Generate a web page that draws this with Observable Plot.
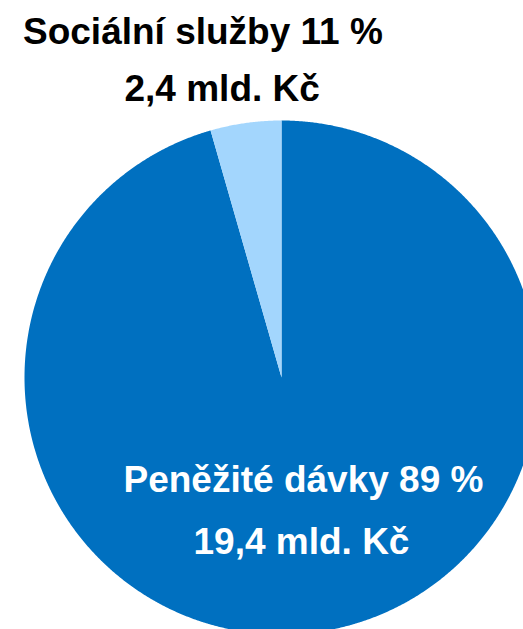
<!DOCTYPE html>
<html>
<head>
<meta charset="utf-8">
<script src="https://cdn.jsdelivr.net/npm/d3@7"></script>
<script src="https://cdn.jsdelivr.net/npm/@observablehq/plot@0.6"></script>
<style>
  html, body { margin: 0; padding: 0; background: #ffffff; }
  #chart svg { display: block; }
</style>
</head>
<body>
<div id="chart"></div>
<script>
// Slices in drawing order (clockwise from 12 o'clock)
const categories = ["Peněžité dávky", "Sociální služby"];
// Slice sizes as drawn in the picture (share of the full circle, %)
const drawnShares = [95.55, 4.45];
// Labelled values
const percentLabels = ["89 %", "11 %"];
const amountLabels = ["19,4 mld. Kč", "2,4 mld. Kč"];
const sliceColors = ["#0070c0", "#a3d6fd"];
const labelColors = ["#ffffff", "#000000"];

// Pie geometry from the data (unit radius, y up)
const arcs = d3.pie().sort(null).value(d => d)(drawnShares);
const pieRows = [];
arcs.forEach((a, i) => {
  pieRows.push({cat: categories[i], x: 0, y: 0});
  const n = Math.max(2, Math.ceil((a.endAngle - a.startAngle) / 0.005));
  for (let k = 0; k <= n; k++) {
    const t = a.startAngle + (a.endAngle - a.startAngle) * k / n;
    pieRows.push({cat: categories[i], x: Math.sin(t), y: Math.cos(t)});
  }
});

// Label rows: title line and amount line per slice
const labelRows = [
  {text: `${categories[1]} ${percentLabels[1]}`, color: labelColors[1], px: 22.5, py: 43},
  {text: amountLabels[1], color: labelColors[1], px: 124, py: 100},
  {text: `${categories[0]} ${percentLabels[0]}`, color: labelColors[0], px: 123, py: 491},
  {text: amountLabels[0], color: labelColors[0], px: 193, py: 553}
];
const R = 257, CX = 281, CY = 377, W = 523, H = 629;
labelRows.forEach(d => { d.x = (d.px - CX) / R; d.y = (CY - d.py) / R; });

const chart = Plot.plot({
  width: W,
  height: H,
  margin: 0,
  x: {domain: [-CX / R, (W - CX) / R], axis: null},
  y: {domain: [-(H - CY) / R, CY / R], axis: null},
  color: {domain: categories, range: sliceColors},
  style: {fontFamily: "'Liberation Sans', Arial, sans-serif", background: "#ffffff"},
  marks: [
    Plot.line(pieRows, {x: "x", y: "y", z: "cat", fill: "cat", stroke: "none", curve: "linear-closed"}),
    Plot.text(labelRows, {
      x: "x", y: "y", text: "text", fill: d => d.color,
      textAnchor: "start", lineAnchor: "bottom",
      fontSize: 37, fontWeight: "bold"
    })
  ]
});
document.getElementById("chart").appendChild(chart);
</script>
</body>
</html>
